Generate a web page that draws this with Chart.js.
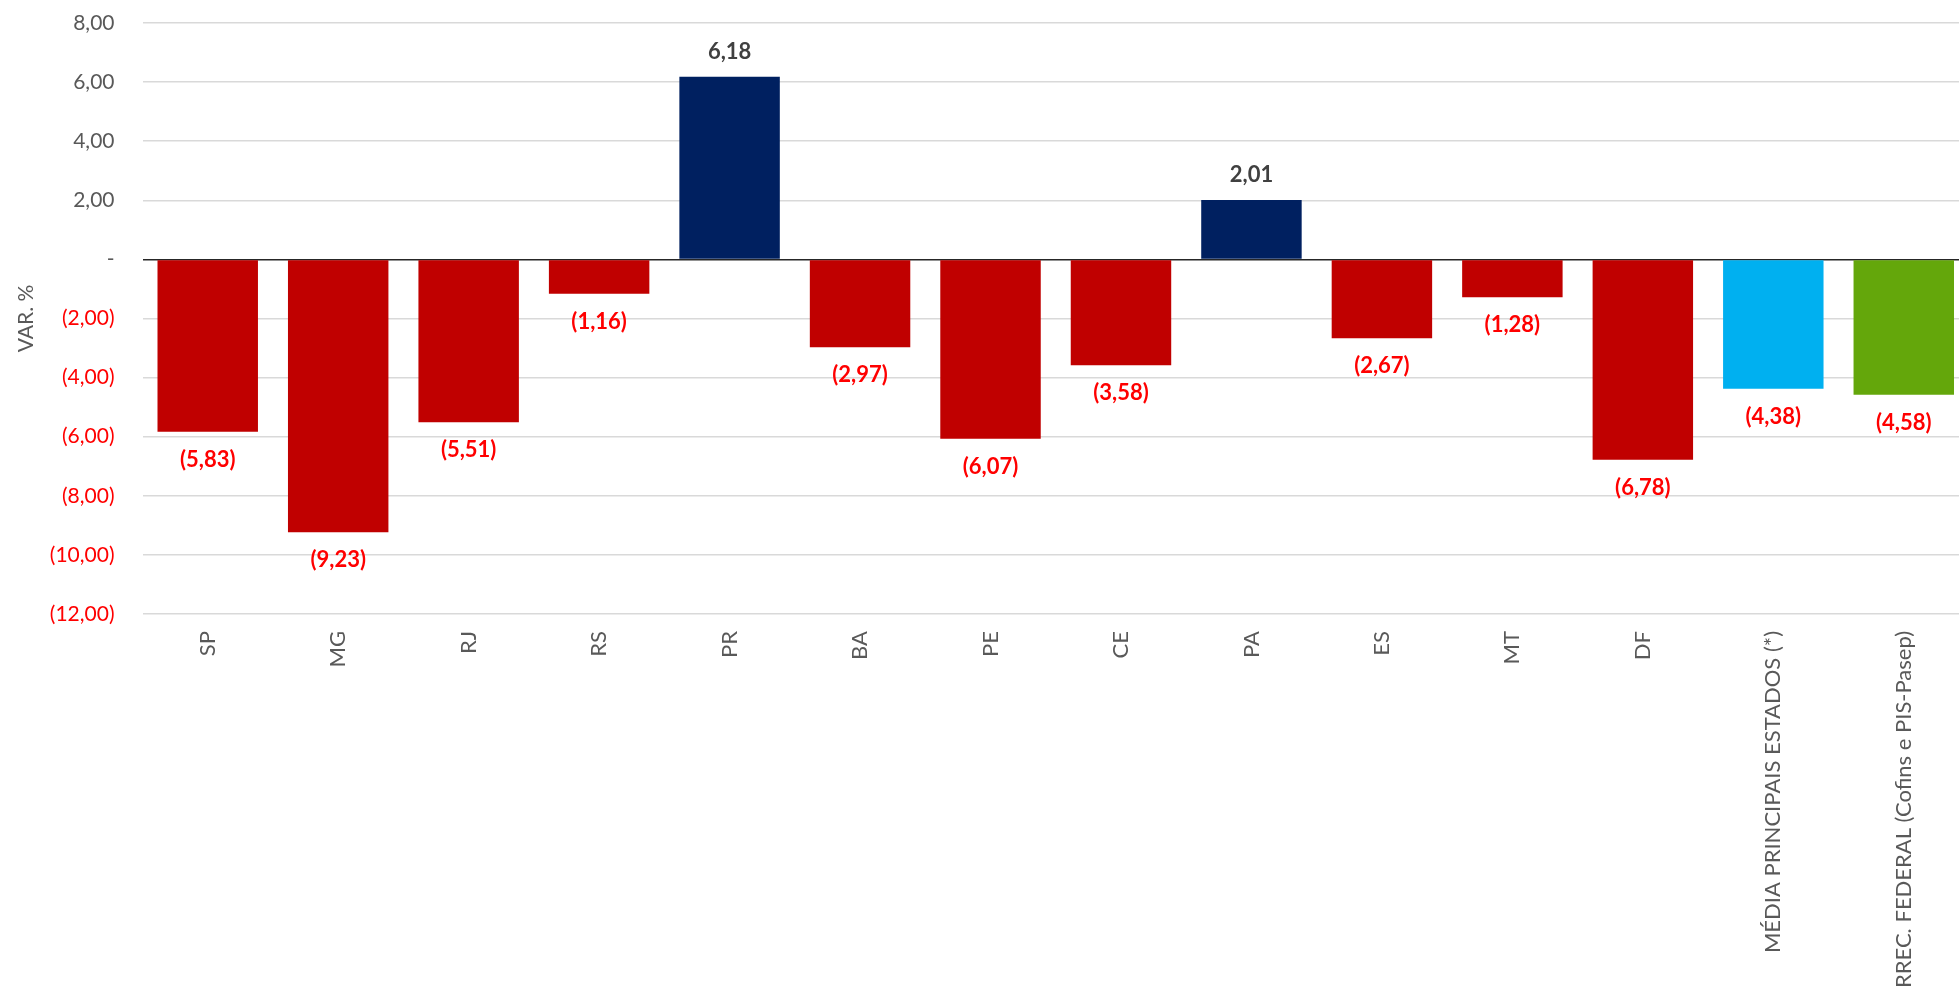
<!DOCTYPE html>
<html>
<head>
<meta charset="utf-8">
<script src="https://cdn.jsdelivr.net/npm/chart.js@4"></script>
<style>
  html, body { margin: 0; padding: 0; overflow: hidden; background: #fff; }
  #wrap { width: 1969px; height: 988px; }
</style>
</head>
<body>
<div id="wrap"><canvas id="c" width="1969" height="988"></canvas></div>
<script>
const categories = ["SP", "MG", "RJ", "RS", "PR", "BA", "PE", "CE", "PA", "ES", "MT", "DF", "MÉDIA PRINCIPAIS ESTADOS (*)", "ARREC. FEDERAL (Cofins e PIS-Pasep)"];
const values = [-5.83, -9.23, -5.51, -1.16, 6.18, -2.97, -6.07, -3.58, 2.01, -2.67, -1.28, -6.78, -4.38, -4.58];
const barColors = ["#C00000", "#C00000", "#C00000", "#C00000", "#002060", "#C00000", "#C00000", "#C00000", "#002060", "#C00000", "#C00000", "#C00000", "#00B0F0", "#64A70B"];
const yTicks = { min: -12, max: 8, step: 2 };
const yTitle = "VAR. %";

const FONT = "Lato, 'Open Sans', sans-serif";

function fmt(v) {
  if (Math.abs(v) < 1e-9) return "-";
  const s = Math.abs(v).toFixed(2).replace(".", ",");
  return v < 0 ? "(" + s + ")" : s;
}

const labelPlugin = {
  id: "barLabels",
  afterDatasetsDraw(chart) {
    const ctx = chart.ctx;
    const meta = chart.getDatasetMeta(0);
    ctx.save();
    ctx.font = "bold 22px " + FONT;
    ctx.textAlign = "center";
    ctx.textBaseline = "middle";
    meta.data.forEach((bar, i) => {
      const v = values[i];
      if (v < 0) {
        ctx.fillStyle = "#FF0000";
        ctx.fillText(fmt(v), bar.x, bar.y + 28);
      } else {
        ctx.fillStyle = "#404040";
        ctx.fillText(fmt(v), bar.x, bar.y - 25);
      }
    });
    ctx.restore();
  }
};

new Chart(document.getElementById("c"), {
  type: "bar",
  data: {
    labels: categories,
    datasets: [{
      data: values,
      backgroundColor: barColors,
      borderWidth: 0,
      barPercentage: 0.77,
      categoryPercentage: 1
    }]
  },
  options: {
    responsive: false,
    animation: false,
    devicePixelRatio: 1,
    layout: { padding: { left: 10, top: 23, right: 0, bottom: 0 } },
    plugins: { legend: { display: false }, tooltip: { enabled: false } },
    scales: {
      x: {
        grid: { display: false, drawTicks: false },
        border: { display: false },
        ticks: {
          autoSkip: false,
          minRotation: 90,
          maxRotation: 90,
          padding: 17,
          color: "#595959",
          font: { family: FONT, size: 22 }
        },
        afterFit(scale) { scale.height = 374; }
      },
      y: {
        min: yTicks.min,
        max: yTicks.max,
        border: { display: false },
        grid: {
          drawTicks: true,
          tickLength: 28,
          tickColor: "rgba(0,0,0,0)",
          color: (c) => (c.tick && c.tick.value === 0) ? "#262626" : "#D9D9D9",
          lineWidth: 1.5
        },
        ticks: {
          stepSize: yTicks.step,
          padding: 0,
          color: (c) => (c.tick && c.tick.value < 0) ? "#FF0000" : "#595959",
          font: { family: FONT, size: 21 },
          callback: (v) => fmt(v)
        },
        title: {
          display: true,
          text: yTitle,
          color: "#595959",
          font: { family: FONT, size: 21 }
        },
        afterFit(scale) { scale.width = 132.5; }
      }
    }
  },
  plugins: [labelPlugin]
});
</script>
</body>
</html>
